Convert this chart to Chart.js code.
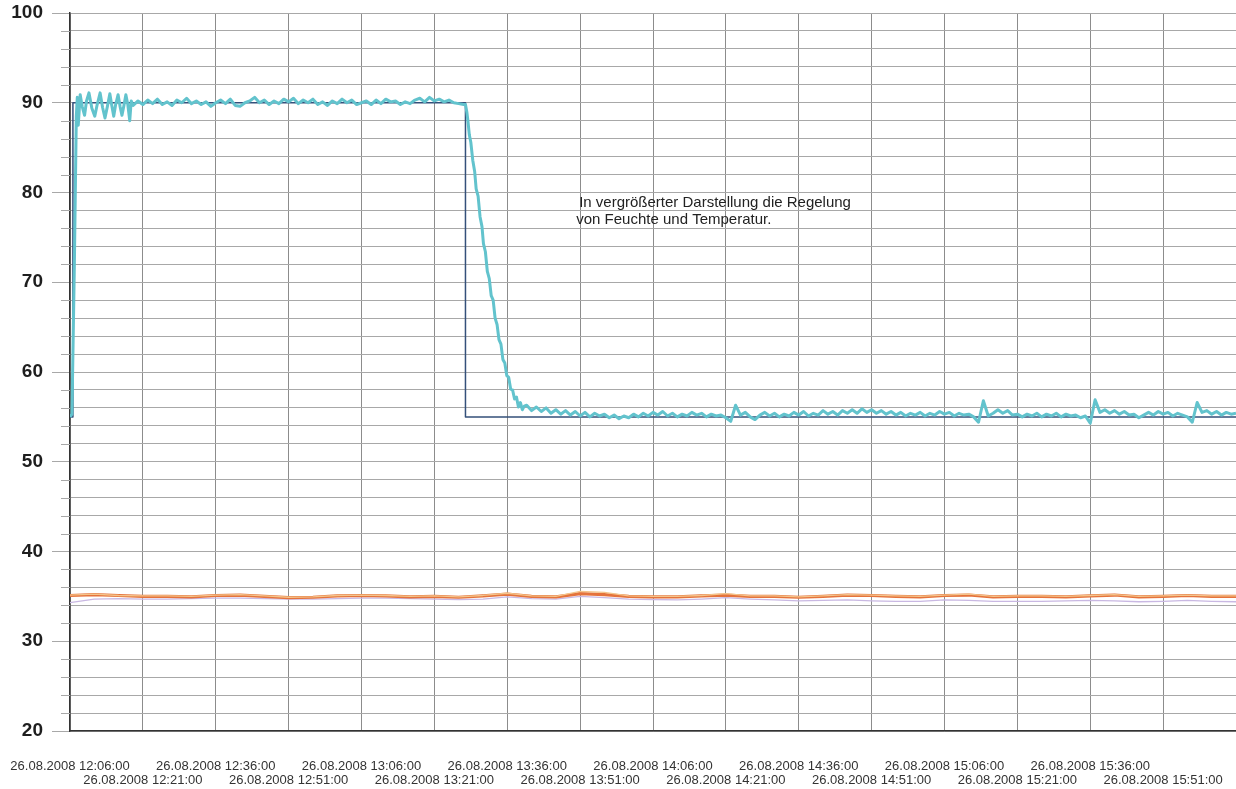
<!DOCTYPE html>
<html>
<head>
<meta charset="utf-8">
<script src="https://cdn.jsdelivr.net/npm/chart.js@4.4.1/dist/chart.umd.min.js"></script>
<style>
  body { margin: 0; background: #fff; }
  canvas { display: block; }
</style>
</head>
<body>
<canvas id="myChart" width="1236" height="789"></canvas>
<script>
// x axis is minutes after 26.08.2008 12:06:00
const xTickLabels = [
    "26.08.2008 12:06:00", "26.08.2008 12:21:00", "26.08.2008 12:36:00", "26.08.2008 12:51:00",
    "26.08.2008 13:06:00", "26.08.2008 13:21:00", "26.08.2008 13:36:00", "26.08.2008 13:51:00",
    "26.08.2008 14:06:00", "26.08.2008 14:21:00", "26.08.2008 14:36:00", "26.08.2008 14:51:00",
    "26.08.2008 15:06:00", "26.08.2008 15:21:00", "26.08.2008 15:36:00", "26.08.2008 15:51:00"
];

// humidity setpoint
const setTime = [0, 0.6, 0.6, 81.4, 81.4, 240];
const setValue = [55, 55, 90, 90, 55, 55];

// measured humidity: start-up, plateau, drop, low level
const humStartTime = [0, 0.4, 0.9, 1.3, 1.5, 1.7, 2.1, 2.5, 3.0, 3.4,
    3.9, 4.5, 5.1, 5.6, 6.2, 6.7, 7.2, 7.7, 8.2, 8.6,
    9.0, 9.4, 9.9, 10.3, 10.7, 11.1, 11.5, 11.9, 12.3, 12.6];
const humStartValue = [55, 55.3, 72, 88.5, 90.6, 87.5, 90.9, 89.6, 88.6, 90.2,
    91.1, 89.4, 88.5, 89.8, 91.1, 89.5, 88.3, 89.6, 91.0, 89.7,
    88.5, 89.8, 90.9, 89.6, 88.6, 89.7, 90.9, 89.8, 88.0, 90.2];

const humPlateauFrom = 13; // one value per minute
const humPlateauValue = [
    89.7, 90.2, 89.8, 90.3, 89.9, 90.4, 89.8, 90.1, 89.7, 90.3,
    90.0, 90.5, 89.9, 90.2, 89.8, 90.1, 89.6, 90.0, 90.3, 89.9,
    90.4, 89.7, 89.6, 90.0, 90.2, 90.6, 90.0, 90.3, 89.8, 90.2,
    89.9, 90.4, 90.1, 90.5, 89.9, 90.3, 90.0, 90.4, 89.8, 90.1,
    89.7, 90.2, 89.9, 90.4, 90.0, 90.3, 89.8, 90.0, 90.2, 89.8,
    90.3, 89.9, 90.4, 90.1, 90.2, 89.8, 90.1, 89.9, 90.3, 90.5,
    90.1, 90.6, 90.2, 90.4, 90.1, 90.3, 90.0, 89.9, 89.8
];

const humDropTime = [81.4, 81.7, 81.9, 82.2, 82.5, 82.9, 83.3, 83.6, 84.0, 84.4,
    84.8, 85.1, 85.5, 85.9, 86.3, 86.7, 87.1, 87.5, 87.9, 88.3,
    88.7, 89.1, 89.5, 89.9, 90.3, 90.7, 91.1, 91.5, 91.9, 92.3,
    92.7, 93.1, 93.5];
const humDropValue = [89.8, 88.9, 88.0, 86.4, 85.6, 83.6, 82.3, 80.4, 79.6, 77.3,
    76.2, 74.3, 73.4, 71.2, 70.4, 68.5, 68.0, 66.0, 65.3, 63.6,
    63.1, 61.4, 61.0, 59.6, 59.4, 58.1, 58.0, 57.0, 57.2, 56.1,
    56.6, 55.8, 56.2];

const humLowFrom = 94; // one value per minute
const humLowValue = [
    56.3, 55.7, 56.1, 55.6, 56.0, 55.4, 55.8, 55.3, 55.7, 55.2,
    55.6, 55.1, 55.5, 55.0, 55.4, 55.1, 55.3, 54.9, 55.2, 54.8,
    55.1, 54.9, 55.3, 55.0, 55.4, 55.1, 55.5, 55.2, 55.6, 55.1,
    55.4, 55.0, 55.3, 55.1, 55.5, 55.2, 55.4, 55.0, 55.3, 55.1,
    55.2, 54.9, 54.5, 56.3, 55.2, 55.5, 55.0, 54.7, 55.2, 55.5,
    55.1, 55.4, 55.0, 55.3, 55.1, 55.5, 55.2, 55.6, 55.1, 55.4,
    55.2, 55.7, 55.3, 55.6, 55.2, 55.7, 55.4, 55.8, 55.4, 55.9,
    55.5, 55.8, 55.4, 55.7, 55.3, 55.6, 55.2, 55.5, 55.1, 55.4,
    55.2, 55.5, 55.1, 55.4, 55.2, 55.6, 55.3, 55.5, 55.1, 55.4,
    55.2, 55.3, 55.0, 54.4, 56.8, 55.1, 55.4, 55.8, 55.4, 55.7,
    55.2, 55.3, 55.0, 55.3, 55.1, 55.4, 55.0, 55.3, 55.1, 55.4,
    55.0, 55.3, 55.1, 55.2, 54.9, 55.1, 54.3, 56.9, 55.5, 55.8,
    55.4, 55.7, 55.3, 55.6, 55.2, 55.3, 54.9, 55.2, 55.5, 55.2,
    55.6, 55.3, 55.5, 55.1, 55.4, 55.2, 55.0, 54.4, 56.6, 55.5,
    55.7, 55.3, 55.6, 55.2, 55.5, 55.3, 55.4
];

// temperatures, one value every 5 minutes
const tempStep = 5;
const tempMain = [
    35.1, 35.2, 35.1, 35.0, 35.0, 34.95, 35.1, 35.15, 35.0, 34.85,
    34.9, 35.05, 35.1, 35.05, 34.95, 35.0, 34.9, 35.05, 35.25, 35.0,
    34.95, 35.3, 35.2, 35.0, 34.95, 34.95, 35.05, 35.15, 35.0, 35.0,
    34.9, 35.0, 35.15, 35.1, 35.0, 34.95, 35.1, 35.15, 34.95, 35.0,
    35.0, 34.95, 35.05, 35.15, 34.95, 35.0, 35.1, 35.0, 35.0
];
const tempSet = [
    35.15, 35.25, 35.1, 35.05, 35.05, 35.0, 35.15, 35.2, 35.05, 34.9,
    34.95, 35.1, 35.15, 35.1, 35.0, 35.05, 34.95, 35.1, 35.35, 35.05,
    35.0, 35.55, 35.45, 35.05, 35.0, 35.0, 35.1, 35.3, 35.05, 35.05,
    34.95, 35.05, 35.2, 35.15, 35.05, 35.0, 35.15, 35.25, 35.0, 35.05,
    35.05, 35.0, 35.1, 35.2, 35.0, 35.05, 35.15, 35.05, 35.05
];
const tempRef = [
    34.3, 34.7, 34.75, 34.7, 34.7, 34.75, 34.8, 34.8, 34.75, 34.7,
    34.7, 34.75, 34.8, 34.8, 34.75, 34.7, 34.65, 34.7, 34.95, 34.75,
    34.7, 35.0, 34.85, 34.7, 34.65, 34.6, 34.7, 34.85, 34.7, 34.6,
    34.5, 34.55, 34.6, 34.5, 34.45, 34.45, 34.6, 34.55, 34.45, 34.45,
    34.45, 34.5, 34.55, 34.5, 34.4, 34.45, 34.55, 34.45, 34.4
];

const noteLines = ["In vergrößerter Darstellung die Regelung", "von Feuchte und Temperatur."];

function pairs(times, values) {
    return values.map((v, i) => ({ x: times[i], y: v }));
}
function stepped(from, step, values) {
    return values.map((v, i) => ({ x: from + i * step, y: v }));
}

const humidity = [].concat(
    pairs(humStartTime, humStartValue),
    stepped(humPlateauFrom, 1, humPlateauValue),
    pairs(humDropTime, humDropValue),
    stepped(humLowFrom, 1, humLowValue)
);

const FONT = "'Liberation Sans', Arial, sans-serif";

// short tick stubs for minor y grid lines + annotation text
const extras = {
    id: "extras",
    beforeDatasetsDraw(chart) {
        const c = chart.ctx;
        const y = chart.scales.y;
        c.save();
        c.strokeStyle = "#a8a8a8";
        c.lineWidth = 1;
        y.ticks.forEach(t => {
            if (t.value % 10 !== 0) {
                const py = Math.round(y.getPixelForValue(t.value)) + 0.5;
                c.beginPath();
                c.moveTo(y.right - 9, py);
                c.lineTo(y.right, py);
                c.stroke();
            }
        });
        c.restore();
    },
    afterDatasetsDraw(chart) {
        const c = chart.ctx;
        const x = chart.scales.x;
        const y = chart.scales.y;
        c.save();
        c.font = "15px " + FONT;
        c.fillStyle = "#222";
        c.textBaseline = "middle";
        c.fillText(noteLines[0], x.getPixelForValue(104.8), y.getPixelForValue(78.9));
        c.fillText(noteLines[1], x.getPixelForValue(104.2), y.getPixelForValue(76.9));
        c.restore();
    }
};

const ctx = document.getElementById("myChart");

new Chart(ctx, {
    type: "line",
    data: {
        datasets: [
            {
                label: "Temperatur Ist",
                data: stepped(0, tempStep, tempRef),
                borderColor: "#c9b8e2",
                borderWidth: 1.3,
                order: 5
            },
            {
                label: "Temperatur",
                data: stepped(0, tempStep, tempMain),
                borderColor: "#e5733c",
                borderWidth: 3.2,
                order: 4
            },
            {
                label: "Temperatur Soll",
                data: stepped(0, tempStep, tempSet),
                borderColor: "#f4c48a",
                borderWidth: 1.3,
                order: 3
            },
            {
                label: "Feuchte Soll",
                data: pairs(setTime, setValue),
                borderColor: "#34507a",
                borderWidth: 1.5,
                order: 2
            },
            {
                label: "Feuchte",
                data: humidity,
                borderColor: "#62c3cd",
                borderWidth: 3,
                order: 1
            }
        ]
    },
    options: {
        responsive: false,
        animation: false,
        layout: { padding: { top: 13, right: 0, left: 0, bottom: 0 } },
        elements: {
            point: { radius: 0 },
            line: { tension: 0, borderJoinStyle: "round" }
        },
        plugins: {
            legend: { display: false },
            tooltip: { enabled: false }
        },
        scales: {
            x: {
                type: "linear",
                min: 0,
                max: 240,
                afterFit(scale) {
                    scale.height = 58;
                    scale.paddingLeft = 0;
                    scale.paddingRight = 0;
                },
                border: { color: "#333", width: 1.5 },
                grid: {
                    drawTicks: false,
                    color: c => c.tick && c.tick.value >= 240 ? "rgba(0,0,0,0)" : "#8c8c8c",
                    lineWidth: 1
                },
                ticks: {
                    stepSize: 15,
                    autoSkip: false,
                    maxRotation: 0,
                    minRotation: 0,
                    padding: 28,
                    color: "#333",
                    font: { family: FONT, size: 13, lineHeight: 1.08 },
                    callback(value) {
                        const i = Math.round(value / 15);
                        if (i >= xTickLabels.length) return "";
                        return i % 2 === 0 ? [xTickLabels[i], ""] : ["", xTickLabels[i]];
                    }
                }
            },
            y: {
                min: 20,
                max: 100,
                afterFit(scale) {
                    scale.width = 70;
                    scale.paddingTop = 0;
                    scale.paddingBottom = 0;
                },
                border: { color: "#333", width: 1.5 },
                grid: {
                    color: "#a8a8a8",
                    lineWidth: 1,
                    tickLength: 18,
                    tickColor: c => c.tick && c.tick.value % 10 === 0 ? "#a8a8a8" : "rgba(0,0,0,0)"
                },
                ticks: {
                    stepSize: 2,
                    autoSkip: false,
                    padding: 9,
                    color: "#1e1e1e",
                    font: { family: FONT, size: 19, weight: "bold" },
                    callback: v => (v % 10 === 0 ? v : "")
                }
            }
        }
    },
    plugins: [extras]
});
</script>
</body>
</html>
